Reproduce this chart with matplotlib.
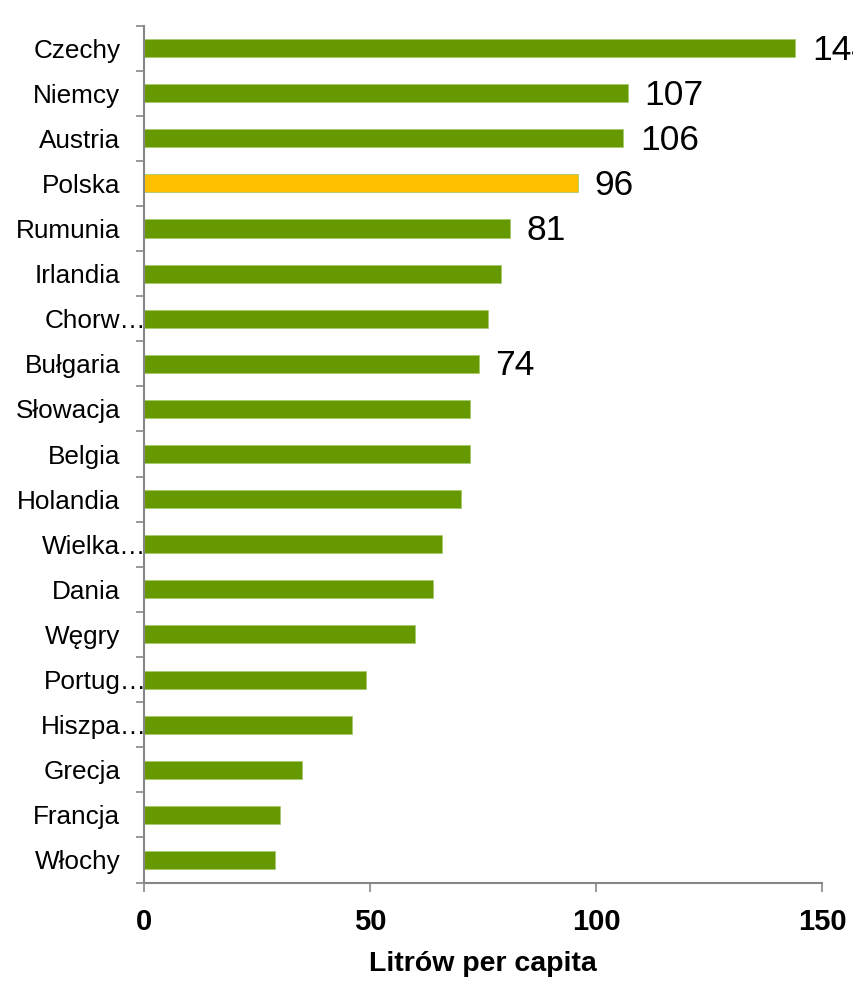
import matplotlib
matplotlib.use("Agg")
import matplotlib.pyplot as plt
from matplotlib.transforms import ScaledTranslation

countries = ["Czechy", "Niemcy", "Austria", "Polska", "Rumunia", "Irlandia",
             "Chorw…", "Bułgaria", "Słowacja", "Belgia", "Holandia", "Wielka…",
             "Dania", "Węgry", "Portug…", "Hiszpa…", "Grecja", "Francja", "Włochy"]
values = [144, 107, 106, 96, 81, 79, 76, 74, 72, 72, 70, 66, 64, 60, 49, 46, 35, 30, 29]
labelled = ["Czechy", "Niemcy", "Austria", "Polska", "Rumunia", "Bułgaria"]
highlight = "Polska"
x_ticks = [0, 50, 100, 150]
x_label = "Litrów per capita"

plt.rcParams['font.family'] = ['Liberation Sans', 'DejaVu Sans']

GREEN = "#669900"
YELLOW = "#FFC000"
GRAY = "#868686"

fig = plt.figure(figsize=(8.54, 9.81), dpi=100)
ax = fig.add_axes([0.1685, 0.1004, 0.7945, 0.8736])

ypos = list(range(len(countries)))
colors = [YELLOW if c == highlight else GREEN for c in countries]
ax.barh(ypos, values, height=0.4, color=colors, edgecolor="#a8c870", linewidth=0.6)

ax.set_ylim(len(countries) - 0.5, -0.5)
ax.set_xlim(0, 150)

for c, y, v in zip(countries, ypos, values):
    if c in labelled:
        ax.annotate(str(v), xy=(v, y), xytext=(12, -1.5), textcoords="offset points",
                    ha="left", va="center", fontsize=25.5, color="black",
                    annotation_clip=False)

ax.set_yticks(ypos)
ax.set_yticklabels(countries, fontsize=18.8)
ax.set_yticks([i - 0.5 for i in range(len(countries) + 1)], minor=True)
ax.tick_params(axis="y", which="major", length=0, pad=17)
ax.tick_params(axis="y", which="minor", length=6, width=1.2, color=GRAY, direction="out")

shift = ScaledTranslation(26 / 100, 0, fig.dpi_scale_trans)
for lbl in ax.get_yticklabels():
    if lbl.get_text().endswith("…"):
        lbl.set_transform(lbl.get_transform() + shift)

ax.set_xticks(x_ticks)
ax.set_xticklabels([str(t) for t in x_ticks], fontsize=21, fontweight="bold")
ax.tick_params(axis="x", length=6.5, width=1.2, color=GRAY, direction="out", pad=12)
ax.set_xlabel(x_label, fontsize=20.5, fontweight="bold", labelpad=11)

for s in ["top", "right"]:
    ax.spines[s].set_visible(False)
for s in ["left", "bottom"]:
    ax.spines[s].set_color(GRAY)
    ax.spines[s].set_linewidth(1.5)

fig.savefig("out.png", dpi=100)
